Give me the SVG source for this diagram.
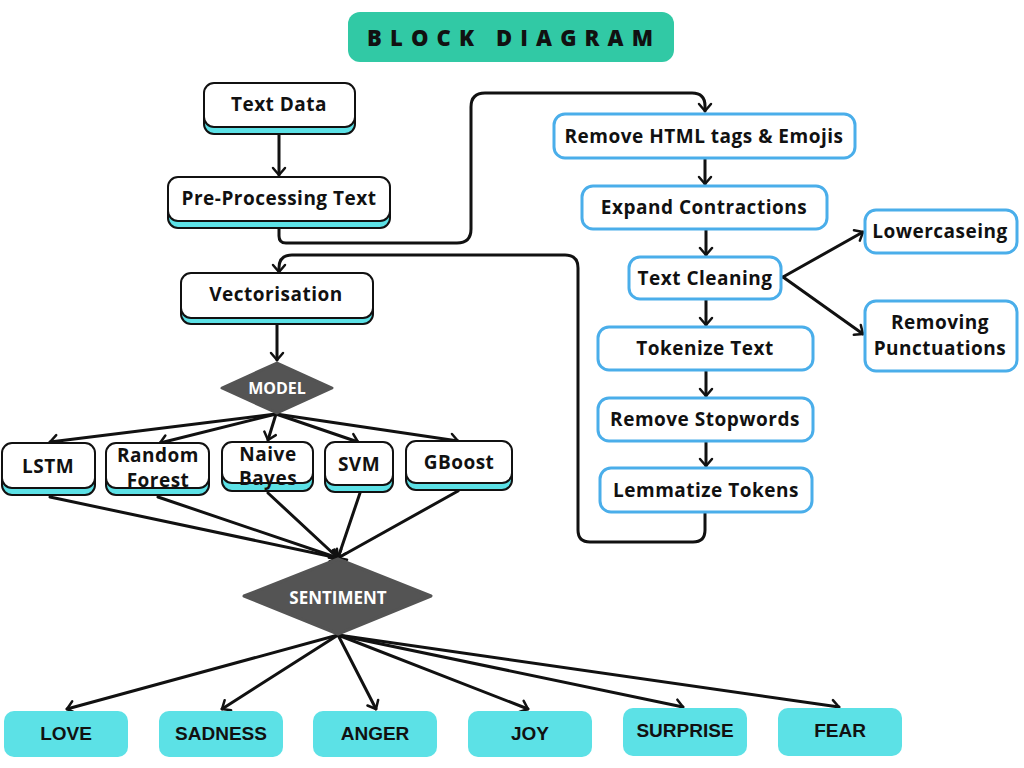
<svg xmlns="http://www.w3.org/2000/svg" width="1024" height="768" viewBox="0 0 1024 768">
<defs>
<style>
.bg{fill:#ffffff}
.lbl{font-family:"Open Sans","Liberation Sans",sans-serif;font-weight:700;font-size:19px;letter-spacing:0.5px;fill:#111;text-anchor:middle;dominant-baseline:central}
.box{fill:#ffffff;stroke:#111;stroke-width:2}
.shadow{fill:#5ce1e6;stroke:#111;stroke-width:2}
.bbox{fill:#ffffff;stroke:#4aaeea;stroke-width:3}
.emo{fill:#5ce1e6}
.emot{font-family:"Liberation Sans",Arial,sans-serif;font-weight:700;font-size:19px;fill:#111;text-anchor:middle;dominant-baseline:central}
.dia{fill:#545454;stroke:#545454;stroke-width:3;stroke-linejoin:round}
.diat{font-family:"Open Sans","Liberation Sans",sans-serif;font-weight:700;fill:#ffffff;text-anchor:middle;dominant-baseline:central}
.c{fill:none;stroke:#111;stroke-width:3;stroke-linecap:round;stroke-linejoin:round}
</style>
<marker id="arr" viewBox="-10 -8 12 16" refX="0" refY="0" markerWidth="12" markerHeight="16" markerUnits="userSpaceOnUse" orient="auto">
<path d="M-7,-6 L0,0 L-7,6" fill="none" stroke="#111" stroke-width="2.5" stroke-linecap="round" stroke-linejoin="round"/>
</marker>
</defs>
<rect class="bg" x="0" y="0" width="1024" height="768"/>

<g id="title">
<rect x="348" y="12" width="326" height="50" rx="12" fill="#31c9a5"/>
<text x="367" y="37" font-family="'Open Sans','Liberation Sans',sans-serif" font-weight="800" font-size="22" fill="#111" dominant-baseline="central" textLength="286" lengthAdjust="spacing">BLOCK DIAGRAM</text>
</g>

<g id="connectors">
<path class="c" d="M279,135 L279,175" marker-end="url(#arr)"/>
<path class="c" d="M279,229 V236 Q279,243 286,243 H457 Q471,243 471,229 V107 Q471,93 485,93 H692 Q705,93 705,106 V111" marker-end="url(#arr)"/>
<path class="c" d="M705,158 L705,184" marker-end="url(#arr)"/>
<path class="c" d="M706,229 L706,255" marker-end="url(#arr)"/>
<path class="c" d="M783,277 L863,232" marker-end="url(#arr)"/>
<path class="c" d="M783,277 L863,334" marker-end="url(#arr)"/>
<path class="c" d="M706,299 L706,325" marker-end="url(#arr)"/>
<path class="c" d="M706,370 L706,396" marker-end="url(#arr)"/>
<path class="c" d="M706,441 L706,466" marker-end="url(#arr)"/>
<path class="c" d="M705,513 V530 Q705,542 693,542 H590 Q578,542 578,530 V268 Q578,255 565,255 H292 Q279,255 279,268 V272" marker-end="url(#arr)"/>
<path class="c" d="M277,324 L277,360" marker-end="url(#arr)"/>
<path class="c" d="M276,414 L50,442" marker-end="url(#arr)"/>
<path class="c" d="M276,414 L160,443" marker-end="url(#arr)"/>
<path class="c" d="M276,414 L268,440" marker-end="url(#arr)"/>
<path class="c" d="M276,414 L358,442" marker-end="url(#arr)"/>
<path class="c" d="M276,414 L458,441" marker-end="url(#arr)"/>
<path class="c" d="M50,497 L338,558" marker-end="url(#arr)"/>
<path class="c" d="M158,497 L338,558" marker-end="url(#arr)"/>
<path class="c" d="M268,493 L338,558" marker-end="url(#arr)"/>
<path class="c" d="M360,493 L338,558" marker-end="url(#arr)"/>
<path class="c" d="M458,491 L338,558" marker-end="url(#arr)"/>
<path class="c" d="M338,635 L67,709" marker-end="url(#arr)"/>
<path class="c" d="M338,635 L222,709" marker-end="url(#arr)"/>
<path class="c" d="M338,635 L376,709" marker-end="url(#arr)"/>
<path class="c" d="M338,635 L528,709" marker-end="url(#arr)"/>
<path class="c" d="M338,635 L683,707" marker-end="url(#arr)"/>
<path class="c" d="M338,635 L839,707" marker-end="url(#arr)"/>
</g>

<g id="text-data">
<rect class="shadow" x="204" y="90" width="151" height="44" rx="10"/>
<rect class="box" x="204" y="83" width="151" height="44" rx="10"/>
<text class="lbl" x="279" y="104">Text Data</text>
</g>
<g id="pre-processing">
<rect class="shadow" x="168" y="184" width="222" height="44" rx="10"/>
<rect class="box" x="168" y="177" width="222" height="44" rx="10"/>
<text class="lbl" x="279" y="198">Pre-Processing Text</text>
</g>
<g id="vectorisation">
<rect class="shadow" x="181" y="280" width="192" height="44" rx="10"/>
<rect class="box" x="181" y="273" width="192" height="45" rx="10"/>
<text class="lbl" x="276" y="294">Vectorisation</text>
</g>
<g id="model">
<polygon class="dia" points="277,363 332,388 277,413 222,388"/>
<text class="diat" x="277" y="388" font-size="16">MODEL</text>
</g>
<g id="lstm">
<rect class="shadow" x="2" y="450" width="93" height="45" rx="10"/>
<rect class="box" x="2" y="443" width="93" height="45" rx="10"/>
<text class="lbl" x="48" y="466">LSTM</text>
</g>
<g id="random-forest">
<rect class="shadow" x="106" y="450" width="103" height="45" rx="10"/>
<rect class="box" x="106" y="443" width="103" height="45" rx="10"/>
<text class="lbl" x="158" y="455" font-size="18">Random</text>
<text class="lbl" x="158" y="480" font-size="18">Forest</text>
</g>
<g id="naive-bayes">
<rect class="shadow" x="222" y="449" width="91" height="42" rx="10"/>
<rect class="box" x="222" y="442" width="91" height="41" rx="10"/>
<text class="lbl" x="268" y="454" font-size="18">Naive</text>
<text class="lbl" x="268" y="478" font-size="18">Bayes</text>
</g>
<g id="svm">
<rect class="shadow" x="325" y="449" width="68" height="43" rx="10"/>
<rect class="box" x="325" y="442" width="68" height="43" rx="10"/>
<text class="lbl" x="359" y="464">SVM</text>
</g>
<g id="gboost">
<rect class="shadow" x="406" y="448" width="106" height="42" rx="10"/>
<rect class="box" x="406" y="441" width="106" height="42" rx="10"/>
<text class="lbl" x="459" y="462">GBoost</text>
</g>
<g id="sentiment">
<polygon class="dia" points="338,559 431,596 338,634 244,596"/>
<text class="diat" x="338" y="597" font-size="17">SENTIMENT</text>
</g>

<g id="remove-html">
<rect class="bbox" x="554" y="114" width="301" height="44" rx="11"/>
<text class="lbl" x="704" y="136">Remove HTML tags &amp; Emojis</text>
</g>
<g id="expand-contractions">
<rect class="bbox" x="582" y="186" width="245" height="43" rx="11"/>
<text class="lbl" x="704" y="207">Expand Contractions</text>
</g>
<g id="text-cleaning">
<rect class="bbox" x="629" y="257" width="152" height="42" rx="11"/>
<text class="lbl" x="705" y="278">Text Cleaning</text>
</g>
<g id="lowercaseing">
<rect class="bbox" x="865" y="210" width="152" height="43" rx="11"/>
<text class="lbl" x="940" y="231">Lowercaseing</text>
</g>
<g id="removing-punctuations">
<rect class="bbox" x="865" y="301" width="152" height="70" rx="11"/>
<text class="lbl" x="940" y="322">Removing</text>
<text class="lbl" x="940" y="348">Punctuations</text>
</g>
<g id="tokenize">
<rect class="bbox" x="598" y="327" width="215" height="43" rx="11"/>
<text class="lbl" x="705" y="348">Tokenize Text</text>
</g>
<g id="stopwords">
<rect class="bbox" x="598" y="398" width="215" height="43" rx="11"/>
<text class="lbl" x="705" y="419">Remove Stopwords</text>
</g>
<g id="lemmatize">
<rect class="bbox" x="600" y="468" width="212" height="44" rx="11"/>
<text class="lbl" x="706" y="490">Lemmatize Tokens</text>
</g>

<g id="love">
<rect class="emo" x="4" y="711" width="124" height="46" rx="10"/>
<text class="emot" x="66" y="733">LOVE</text>
</g>
<g id="sadness">
<rect class="emo" x="159" y="711" width="124" height="46" rx="10"/>
<text class="emot" x="221" y="733">SADNESS</text>
</g>
<g id="anger">
<rect class="emo" x="313" y="711" width="124" height="46" rx="10"/>
<text class="emot" x="375" y="733">ANGER</text>
</g>
<g id="joy">
<rect class="emo" x="468" y="711" width="124" height="46" rx="10"/>
<text class="emot" x="530" y="733">JOY</text>
</g>
<g id="surprise">
<rect class="emo" x="623" y="708" width="124" height="48" rx="10"/>
<text class="emot" x="685" y="730">SURPRISE</text>
</g>
<g id="fear">
<rect class="emo" x="778" y="708" width="124" height="48" rx="10"/>
<text class="emot" x="840" y="730">FEAR</text>
</g>
</svg>
